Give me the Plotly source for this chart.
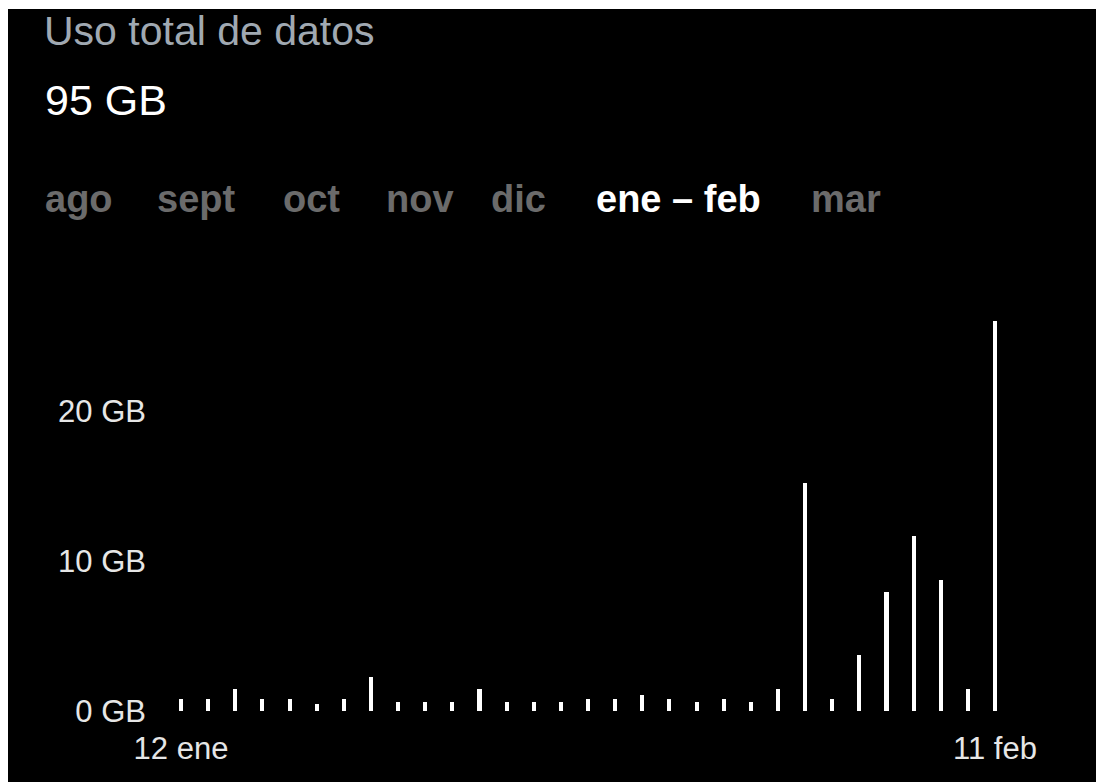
import plotly.graph_objects as go

# ---- data ----
days = list(range(31))  # 12 ene .. 11 feb
usage_gb = [0.8, 0.8, 1.47, 0.8, 0.8, 0.5, 0.8, 2.25, 0.6, 0.6, 0.6, 1.47, 0.6, 0.6, 0.6,
            0.8, 0.8, 1.07, 0.8, 0.6, 0.8, 0.6, 1.47, 15.2, 0.8, 3.73, 7.93, 11.67, 8.73,
            1.47, 26.0]
x_tick_vals = [0, 30]
x_tick_text = ["12 ene", "11 feb"]
y_tick_vals = [0, 10, 20]
y_tick_text = ["0 GB", "10 GB", "20 GB"]
tabs = ["ago", "sept", "oct", "nov", "dic", "ene – feb", "mar"]
tab_left_px = [43, 155, 281, 384, 489, 594, 809]
active_tab = "ene – feb"
title = "Uso total de datos"
total = "95 GB"

# ---- layout geometry (screen pixels; page body margin removed) ----
W, H = 1096, 782
L, R, T, B = 150, 1040, 300, 711
px_per_day = 27.13
x0 = 0 - (181 - L) / px_per_day
x1 = 30 + (R - 995) / px_per_day
y_top = (B - T) / 15.0

def px(xs):
    return (xs - L) / (R - L)

def py(ys):
    return (B - ys) / (B - T)

FONT = "Liberation Sans, Arial, sans-serif"

fig = go.Figure()
fig.add_trace(go.Bar(x=days, y=usage_gb, width=0.15,
                     marker=dict(color="white", line=dict(width=0)),
                     hoverinfo="skip"))

annotations = [
    dict(text=title, x=px(42), y=py(31), xref="paper", yref="paper",
         xanchor="left", yanchor="middle", showarrow=False,
         font=dict(family=FONT, size=41, color="#a0a9b2")),
    dict(text=total, x=px(43), y=py(100), xref="paper", yref="paper",
         xanchor="left", yanchor="middle", showarrow=False,
         font=dict(family=FONT, size=43, color="white")),
]
for t, lp in zip(tabs, tab_left_px):
    annotations.append(dict(
        text="<b>%s</b>" % t, x=px(lp), y=py(199), xref="paper", yref="paper",
        xanchor="left", yanchor="middle", showarrow=False,
        font=dict(family=FONT, size=38,
                  color="white" if t == active_tab else "#6b6b6b")))

# white frame strips at top and left edge, as in the reference screenshot
shapes = [
    dict(type="rect", xref="paper", yref="paper", layer="below",
         x0=px(-2), x1=px(W + 2), y0=py(9), y1=py(-2),
         fillcolor="white", line=dict(width=0)),
    dict(type="rect", xref="paper", yref="paper", layer="below",
         x0=px(-2), x1=px(8), y0=py(H + 2), y1=py(-2),
         fillcolor="white", line=dict(width=0)),
]

fig.update_layout(
    width=W, height=H,
    margin=dict(l=L, r=W - R, t=T, b=H - B, pad=0),
    paper_bgcolor="black", plot_bgcolor="black",
    showlegend=False,
    bargap=0,
    annotations=annotations,
    shapes=shapes,
    xaxis=dict(range=[x0, x1], tickvals=x_tick_vals, ticktext=x_tick_text,
               showgrid=False, zeroline=False, showline=False, ticks="",
               ticklabelstandoff=16,
               tickfont=dict(family=FONT, size=31, color="#e6e6e6")),
    yaxis=dict(range=[0, y_top], tickvals=y_tick_vals, ticktext=y_tick_text,
               showgrid=False, zeroline=False, showline=False, ticks="",
               ticklabelstandoff=3,
               tickfont=dict(family=FONT, size=31, color="#e6e6e6")),
)

fig.write_html(
    "out.html",
    config={"displayModeBar": False},
    post_script="document.documentElement.style.overflow='hidden';"
                "document.documentElement.style.background='black';"
                "document.body.style.overflow='hidden';"
                "document.body.style.background='black';"
                "document.body.style.margin='0';",
)
